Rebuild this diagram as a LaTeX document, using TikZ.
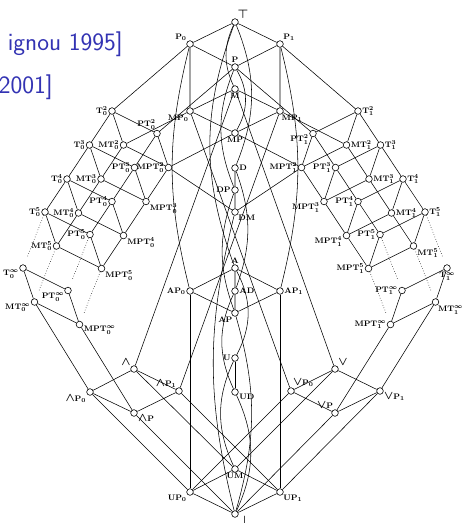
\documentclass[tikz,border=0pt]{standalone}
\usetikzlibrary{calc}
\definecolor{structblue}{RGB}{51,51,179}
\pgfdeclarelayer{background}
\pgfsetlayers{background,main}
\newcommand\vtx[4]{\node[v,label={[lab]#3:#4}] (#1) at (#2) {};}
\newcommand\wdgsym{{\large$\wedge$}}
\newcommand\veesym{{\large$\vee$}}
\begin{document}
\begin{tikzpicture}[x=1pt,y=-1pt,
  v/.style={circle,draw,fill=white,inner sep=0pt,minimum size=6.6pt,line width=0.6pt},
  lab/.style={font=\fontsize{8}{9}\selectfont\bfseries\boldmath,inner sep=0.6pt,draw=none,fill=none},
  label distance=0pt,
  ln/.style={line width=0.55pt},
  dots/.style={line width=0.55pt,dotted},
  cite/.style={anchor=base east,font=\sffamily\fontsize{25}{30}\selectfont,text=structblue,inner sep=0pt}]
\useasboundingbox (0,0) rectangle (462,523);

% citation fragments
\node[cite] (cite1) at (123,50) {ignou 1995]};
\node[cite] (cite2) at (53,93) {2001]};

% ---------- central column and neighbours ----------
\vtx{top}{235,22}{60}{\large$\top$}
\vtx{P0}{190,44}{135}{$\mathrm{P}_0$}
\vtx{P1}{280,44}{45}{$\mathrm{P}_1$}
\vtx{P}{235,67}{90}{$\mathrm{P}$}
\vtx{M}{235,89}{270}{$\mathrm{M}$}
\vtx{MP0}{190,111}{260}{$\mathrm{MP}_0$}
\vtx{MP1}{280,111}{285}{$\mathrm{MP}_1$}
\vtx{MP}{235,133}{270}{$\mathrm{MP}$}
\vtx{D}{235,168}{0}{$\mathrm{D}$}
\vtx{DP}{235,190}{180}{$\mathrm{DP}$}
\vtx{DM}{235,212}{315}{$\mathrm{DM}$}
\vtx{A}{235,268}{90}{$\mathrm{A}$}
\vtx{AP0}{190,291}{180}{$\mathrm{AP}_0$}
\vtx{AD}{235,291}{0}{$\mathrm{AD}$}
\vtx{AP1}{280,291}{0}{$\mathrm{AP}_1$}
\vtx{AP}{235,313}{240}{$\mathrm{AP}$}
\vtx{U}{235,358}{180}{$\mathrm{U}$}
\vtx{UD}{235,392}{345}{$\mathrm{UD}$}
\vtx{UM}{235,469}{270}{$\mathrm{UM}$}
\vtx{UP0}{190,492}{225}{$\mathrm{UP}_0$}
\vtx{UP1}{280,492}{315}{$\mathrm{UP}_1$}
\vtx{bot}{235,514}{345}{\large$\bot$}
\vtx{L}{134,369}{135}{\wdgsym}
\vtx{LP0}{90,392}{210}{\wdgsym$\mathrm{P}_0$}
\vtx{LP1}{179,391}{120}{\wdgsym$\mathrm{P}_1$}
\vtx{LP}{134,413}{340}{\wdgsym$\mathrm{P}$}
\vtx{V}{335,369}{45}{\veesym}
\vtx{VP0}{291,391}{70}{\veesym$\mathrm{P}_0$}
\vtx{VP1}{380,391}{340}{\veesym$\mathrm{P}_1$}
\vtx{VP}{335,413}{110}{\veesym$\mathrm{P}$}

% ---------- left wing ----------
\vtx{T02}{112,111}{180}{$\mathrm{T}_0^2$}
\vtx{T03}{89.5,145}{180}{$\mathrm{T}_0^3$}
\vtx{T04}{67,179}{180}{$\mathrm{T}_0^4$}
\vtx{T05}{45,212}{180}{$\mathrm{T}_0^5$}
\vtx{T0i}{23,268}{200}{$\mathrm{T}_0^\infty$}
\vtx{MT02}{123.5,145}{180}{$\mathrm{MT}_0^2$}
\vtx{MT03}{101,179}{180}{$\mathrm{MT}_0^3$}
\vtx{MT04}{78.5,213}{180}{$\mathrm{MT}_0^4$}
\vtx{MT05}{56.5,246}{180}{$\mathrm{MT}_0^5$}
\vtx{MT0i}{34.5,302}{190}{$\mathrm{MT}_0^\infty$}
\vtx{PT02}{157,133.5}{100}{$\mathrm{PT}_0^2$}
\vtx{PT03}{134.5,167.5}{180}{$\mathrm{PT}_0^3$}
\vtx{PT04}{112,201.5}{180}{$\mathrm{PT}_0^4$}
\vtx{PT05}{90,234.5}{180}{$\mathrm{PT}_0^5$}
\vtx{PT0i}{68,290.5}{210}{$\mathrm{PT}_0^\infty$}
\vtx{MPT02}{168.5,167.5}{180}{$\mathrm{MPT}_0^2$}
\vtx{MPT03}{146,201.5}{330}{$\mathrm{MPT}_0^3$}
\vtx{MPT04}{123.5,235.5}{330}{$\mathrm{MPT}_0^4$}
\vtx{MPT05}{101.5,268.5}{330}{$\mathrm{MPT}_0^5$}
\vtx{MPT0i}{79.5,324.5}{350}{$\mathrm{MPT}_0^\infty$}

% ---------- right wing ----------
\vtx{T12}{358,111}{0}{$\mathrm{T}_1^2$}
\vtx{T13}{380.5,145}{0}{$\mathrm{T}_1^3$}
\vtx{T14}{403,179}{0}{$\mathrm{T}_1^4$}
\vtx{T15}{425,212}{0}{$\mathrm{T}_1^5$}
\vtx{T1i}{447,268}{272}{$\mathrm{T}_1^\infty$}
\vtx{MT12}{346.5,145}{0}{$\mathrm{MT}_1^2$}
\vtx{MT13}{369,179}{0}{$\mathrm{MT}_1^3$}
\vtx{MT14}{391.5,213}{0}{$\mathrm{MT}_1^4$}
\vtx{MT15}{413.5,246}{330}{$\mathrm{MT}_1^5$}
\vtx{MT1i}{435.5,302}{300}{$\mathrm{MT}_1^\infty$}
\vtx{PT12}{313,133.5}{190}{$\mathrm{PT}_1^2$}
\vtx{PT13}{335.5,167.5}{180}{$\mathrm{PT}_1^3$}
\vtx{PT14}{358,201.5}{180}{$\mathrm{PT}_1^4$}
\vtx{PT15}{380,234.5}{180}{$\mathrm{PT}_1^5$}
\vtx{PT1i}{402,290.5}{180}{$\mathrm{PT}_1^\infty$}
\vtx{MPT12}{301.5,167.5}{180}{$\mathrm{MPT}_1^2$}
\vtx{MPT13}{324,201.5}{190}{$\mathrm{MPT}_1^3$}
\vtx{MPT14}{346.5,235.5}{190}{$\mathrm{MPT}_1^4$}
\vtx{MPT15}{368.5,268.5}{180}{$\mathrm{MPT}_1^5$}
\vtx{MPT1i}{390.5,324.5}{180}{$\mathrm{MPT}_1^\infty$}

\begin{pgfonlayer}{background}
% ---------- straight edges ----------
\begin{scope}[ln]
\draw (top)--(P0) (top)--(P1) (P0)--(P) (P1)--(P);
\draw (P0)--(T02) (P1)--(T12) (P0)--(MP0) (P1)--(MP1);
\draw (P)--(PT02) (P)--(PT12);
\draw (M)--(MP0) (M)--(MP1) (M)--(L) (M)--(V);
\draw (MP0)--(MP) (MP1)--(MP) (MP0)--(MT02) (MP1)--(MT12);
\draw (MP0)--(VP0) (MP1)--(LP1);
\draw (MP)--(MPT02) (MP)--(MPT12);
\draw (D)--(DP) (DP)--(DM) (MPT02)--(DM) (MPT12)--(DM);
\draw (A)--(AP0) (A)--(AD) (A)--(AP1);
\draw (AP0)--(AP) (AD)--(AP) (AP1)--(AP);
\draw (AP0)--(UP0) (AP1)--(UP1);
\draw (U)--(UD);
\draw (UM)--(UP0) (UM)--(UP1) (UP0)--(bot) (UP1)--(bot);
\draw (L)--(LP0) (L)--(LP1) (L)--(UM) (LP0)--(LP) (LP1)--(LP);
\draw (LP0)--(UP0) (LP1)--(UP1) (LP)--(bot);
\draw (V)--(VP0) (V)--(VP1) (V)--(UM) (VP0)--(VP) (VP1)--(VP);
\draw (VP0)--(UP0) (VP1)--(UP1) (VP)--(bot);
% wings
\draw (T02)--(T03)--(T04)--(T05);
\draw (MT02)--(MT03)--(MT04)--(MT05);
\draw (PT02)--(PT03)--(PT04)--(PT05);
\draw (MPT02)--(MPT03)--(MPT04)--(MPT05);
\draw (T12)--(T13)--(T14)--(T15);
\draw (MT12)--(MT13)--(MT14)--(MT15);
\draw (PT12)--(PT13)--(PT14)--(PT15);
\draw (MPT12)--(MPT13)--(MPT14)--(MPT15);
\foreach \k in {2,3,4,5,i} {
  \draw (T0\k)--(MT0\k) (T0\k)--(PT0\k) (MT0\k)--(MPT0\k) (PT0\k)--(MPT0\k);
  \draw (T1\k)--(MT1\k) (T1\k)--(PT1\k) (MT1\k)--(MPT1\k) (PT1\k)--(MPT1\k);
}
\draw (MT0i)--(LP0) (MPT0i)--(LP);
\draw (MT1i)--(VP1) (MPT1i)--(VP);
\end{scope}

% ---------- dotted continuation to the infinite levels ----------
\foreach \n in {T,MT,PT,MPT} {
  \draw[dots] (\n05)--($(\n05)!0.82!(\n0i)$);
  \draw[dots] (\n15)--($(\n15)!0.82!(\n1i)$);
}

% ---------- curved edges along the central axis ----------
\begin{scope}[ln]
\draw (top) to[bend right=25] (M);
\draw (top) to[bend left=22] (D);
\draw (top) to[bend right=20] (A);
\draw (P) to[bend left=30] (MP);
\draw (P) to[bend right=22] (DP);
\draw (P0) to[bend right=14] (AP0);
\draw (P1) to[bend left=14] (AP1);
\draw (D) to[bend left=20] (AD);
\draw (DP) to[bend right=20] (AP);
\draw (DM) to[bend right=14] (bot);
\draw (A) to[bend left=28] (U);
\draw (AD) to[bend right=25] (UD);
\draw (AP) to[bend left=16] (bot);
\draw (U) to[bend right=25] (UM);
\draw (UD) to[bend left=25] (bot);
\end{scope}
\end{pgfonlayer}
\end{tikzpicture}
\end{document}
